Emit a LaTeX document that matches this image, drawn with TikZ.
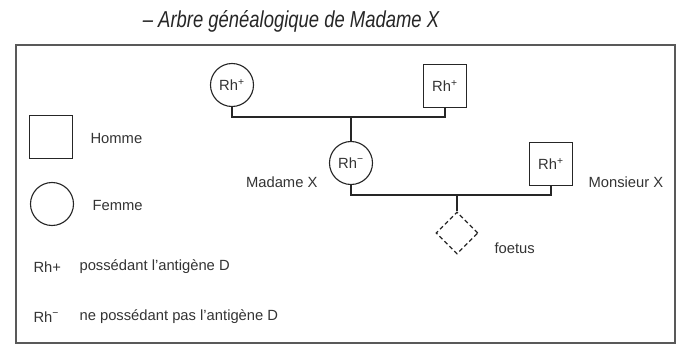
\documentclass[tikz,border=0pt]{standalone}
\usepackage{fontspec}
\setmainfont{Liberation Sans}
\newfontfamily\titrefont[FakeStretch=0.8]{Liberation Sans}
\usepackage{tikz}
\usetikzlibrary{shapes.geometric}

\tikzset{
    homme/.style={draw, black!85, text=black!80, minimum size=1.075cm, inner sep=0pt},
    femme/.style={draw, circle, black!85, text=black!80, minimum size=1.075cm, inner sep=0pt},
    enfant/.style={draw, diamond, dashed, dash pattern=on 3pt off 2pt, black!85, minimum size=1.05cm, inner sep=0pt},
    lien/.style={black!85, line width=0.8pt},
    legende/.style={anchor=west, text=black!80, inner sep=0pt}
}

\begin{document}
\begin{tikzpicture}[line width=0.8pt, font=\fontsize{10.5}{12}\selectfont]
    \useasboundingbox (0, 0) rectangle (17.125, 8.675);
    \draw [black!65, line width=1.3pt] (0.4, 0.1) rectangle (16.875, 7.55);
    \draw (7.275, 8.15) node (titre) [text=black!85, font=\titrefont\fontsize{16.4}{18}\selectfont\itshape] {\textendash\ Arbre généalogique de Madame X};
    \draw (5.8, 6.55) node (grandmere) [femme] {Rh\textsuperscript{+}};
    \draw (11.125, 6.525) node (grandpere) [homme] {Rh\textsuperscript{+}};
    \coordinate (lien1) at (8.775, 5.75);
    \draw (8.775, 4.6) node (madame) [femme] {Rh\textsuperscript{−}};
    \draw (13.775, 4.575) node (monsieur) [homme] {Rh\textsuperscript{+}};
    \coordinate (lien2) at (11.425, 3.8);
    \draw (11.425, 2.85) node (foetus) [enfant] {};
    \draw [lien] (grandmere.south) |- (lien1) -| (grandpere.south);
    \draw [lien] (lien1) -- (madame.north);
    \draw [lien] (madame.south) |- (lien2) -| (monsieur.south);
    \draw [lien] (lien2) -- (foetus.north);
    \draw (7.95, 4.125) node (nommadame) [legende, anchor=east] {Madame X};
    \draw (14.7, 4.125) node (nommonsieur) [legende] {Monsieur X};
    \draw (12.35, 2.475) node (nomfoetus) [legende] {foetus};
    \draw (1.275, 5.25) node (cleHomme) [homme] {};
    \draw (2.25, 5.225) node (txtHomme) [legende] {Homme};
    \draw (1.3, 3.575) node (cleFemme) [femme] {};
    \draw (2.3, 3.55) node (txtFemme) [legende] {Femme};
    \draw (0.825, 2.0) node (clePlus) [legende] {Rh+};
    \draw (1.975, 2.0) node (txtPlus) [legende] {possédant l'antigène D};
    \draw (0.825, 0.75) node (cleMoins) [legende] {Rh\textsuperscript{−}};
    \draw (1.975, 0.75) node (txtMoins) [legende] {ne possédant pas l'antigène D};
\end{tikzpicture}
\end{document}
